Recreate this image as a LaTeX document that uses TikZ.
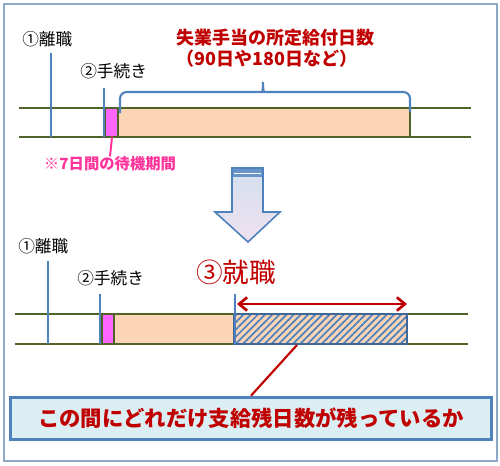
\documentclass[tikz,border=0pt]{standalone}
\usepackage{fontspec}
\newfontfamily\jp{Noto Sans CJK JP}
\usetikzlibrary{arrows.meta,patterns.meta}
\definecolor{lineblue}{HTML}{4F81BD}
\definecolor{olive}{HTML}{4F6228}
\definecolor{peach}{HTML}{FBD5B5}
\definecolor{wait}{HTML}{FF66FF}
\definecolor{darkred}{HTML}{C00000}
\definecolor{pinktext}{HTML}{FF3399}
\definecolor{boxfill}{HTML}{DBEEF4}
\definecolor{framegray}{HTML}{8EA9C8}
\tikzset{
  timeline/.style={draw=olive, line width=2pt},
  tickline/.style={draw=lineblue, line width=1.9pt},
  period/.style={draw=olive, line width=1.2pt},
  eventtext/.style={font=\jp\fontsize{12.5}{14}\selectfont, inner sep=0pt, anchor=west},
  headtext/.style={font=\jp\bfseries\fontsize{13.5}{16}\selectfont, text=darkred, inner sep=0pt, align=left, anchor=west},
  waittext/.style={font=\jp\bfseries\fontsize{11.5}{13}\selectfont, text=pinktext, inner sep=0pt},
  notebox/.style={draw=lineblue, line width=2.2pt, fill=boxfill, minimum width=361pt, minimum height=32pt,
    inner sep=0pt, font=\jp\bfseries\fontsize{16}{18}\selectfont, text=darkred}
}
\begin{document}
\begin{tikzpicture}[x=0.75pt,y=-0.75pt]
  \useasboundingbox (0,0) rectangle (500,465);
  \draw[framegray, line width=1.2pt] (4,4) rectangle (497,461);

  % before finding a job
  \draw[timeline] (19,108) -- (471,108)  (19,137) -- (471,137);
  \filldraw[period, fill=wait] (105,108) rectangle (118,137);
  \filldraw[period, fill=peach] (118,108) rectangle (410,137);
  \draw[tickline] (51,53) -- (51,137);
  \draw[tickline] (104,88) -- (104,137);
  \node[eventtext] (quitA) at (22,39) {①離職};
  \node[eventtext] (procA) at (80,71) {②手続き};

  \draw[lineblue, line width=1.6pt, rounded corners=5] (120,113) -- (120,92) -- (256,92)
    .. controls (262,92) and (263,88) .. (263,78)
    .. controls (263,88) and (264,92) .. (270,92) -- (410,92) -- (410,112);
  \node[headtext] (headA) at (176,48) {失業手当の所定給付日数\\（90日や180日など）};

  \coordinate (waitA) at (112,137);
  \node[waittext] (waitlabel) at (110,164) {※7日間の待機期間};
  \draw[pinktext, line width=1.5pt] (waitA) -- (waitlabel.north);

  % big arrow
  \draw[lineblue, line width=1.2pt, top color=lineblue!25, bottom color=violet!12]
    (232,168) -- (263,168) -- (263,212) -- (280,212) -- (248,242) -- (215,212) -- (232,212) -- cycle;
  \fill[lineblue!85] (232.6,168.6) rectangle (262.4,177);
  \draw[white, line width=0.6pt] (234,173.5) -- (261,173.5);

  % after finding a job
  \draw[timeline] (15,314) -- (468,314)  (15,344) -- (468,344);
  \filldraw[period, fill=wait] (102,314) rectangle (114,344);
  \filldraw[period, fill=peach] (114,314) rectangle (234,344);
  \fill[peach] (234,314) rectangle (407,344);
  \fill[pattern={Lines[angle=45,distance=3.8pt,line width=1.3pt]}, pattern color=lineblue]
    (234,314) rectangle (407,344);
  \draw[lineblue!80!black, line width=1.6pt] (234,314) rectangle (407,344);
  \draw[tickline] (48,261) -- (48,344);
  \draw[tickline] (100,294) -- (100,344);
  \draw[tickline] (235,294) -- (235,344);
  \node[eventtext] (quitB) at (18,246) {①離職};
  \node[eventtext] (procB) at (77,278) {②手続き};
  \node[eventtext, font=\jp\fontsize{20}{22}\selectfont, text=darkred] (jobB) at (196,272) {③就職};

  \coordinate (restL) at (237,304);
  \coordinate (restR) at (407,304);
  \draw[darkred, line width=2pt, {Straight Barb[length=6pt,width=10pt]}-{Straight Barb[length=6pt,width=10pt]}]
    (restL) -- (restR);

  \node[notebox] (noteB) at (251,418.5) {この間にどれだけ支給残日数が残っているか};
  \coordinate (restbot) at (297,345);
  \draw[darkred, line width=1.6pt] (restbot) -- (noteB.north);
\end{tikzpicture}
\end{document}
